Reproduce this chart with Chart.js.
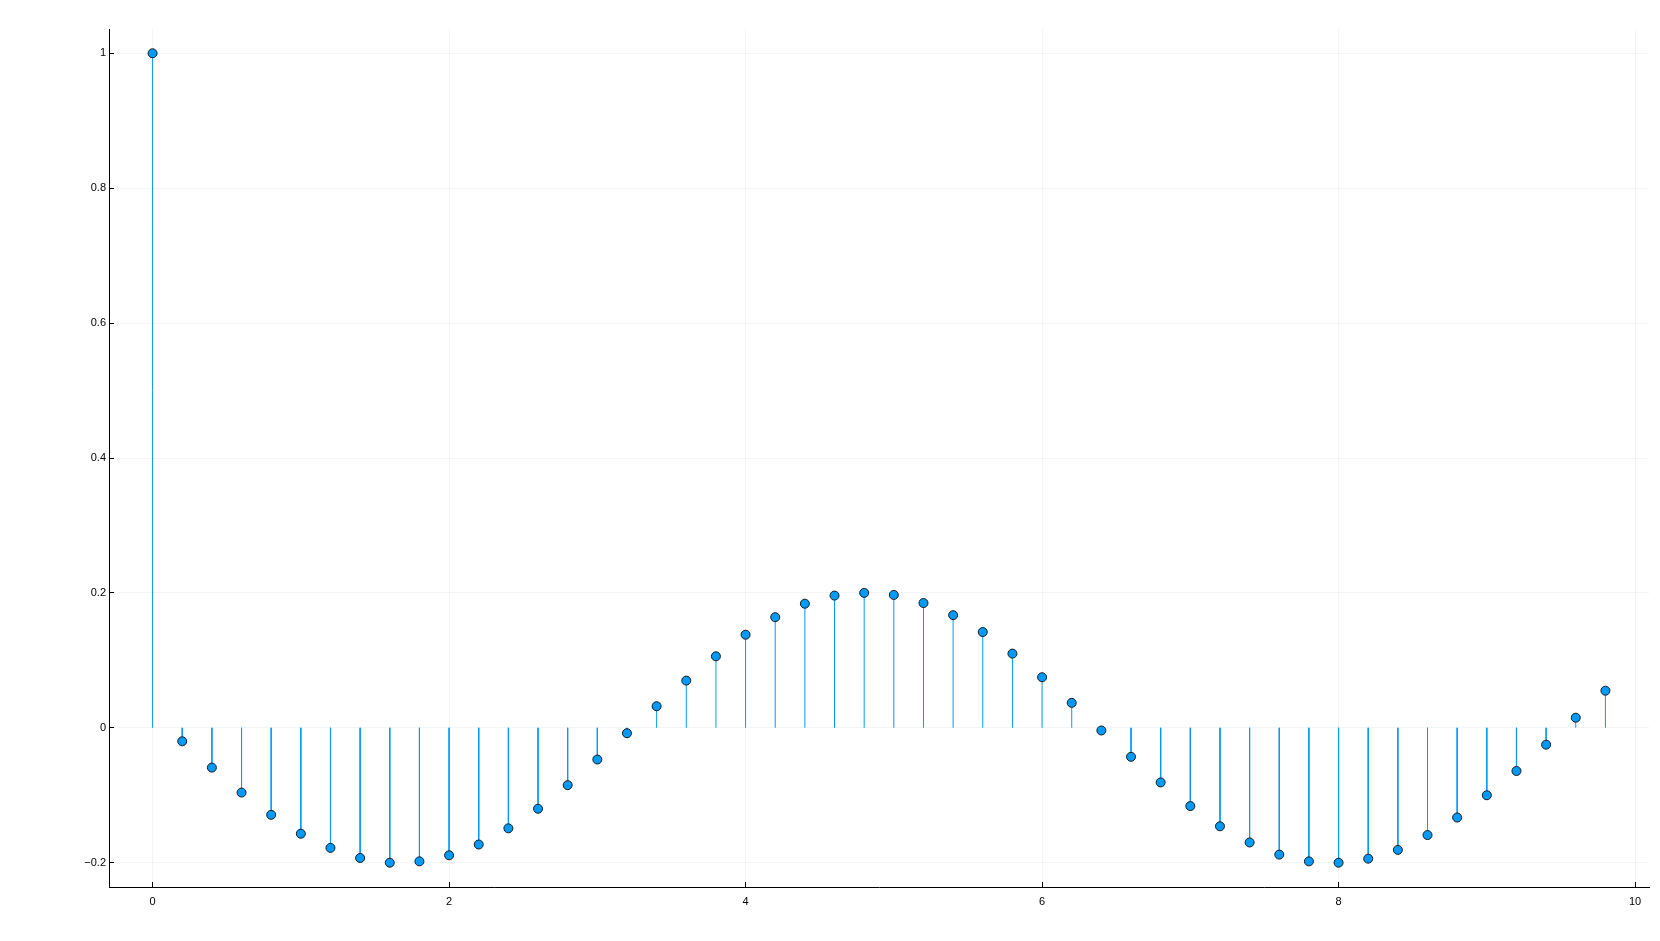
<!DOCTYPE html>
<html>
<head>
<meta charset="utf-8">
<script src="https://cdn.jsdelivr.net/npm/chart.js@4.4.1/dist/chart.umd.min.js"></script>
<style>
  html, body { margin: 0; padding: 0; background: #ffffff; }
  #wrap { width: 1660px; height: 941px; }
</style>
</head>
<body>
<div id="wrap"><canvas id="c" width="1660" height="941"></canvas></div>
<script>
// ---- data ----
const xValues = [0, 0.2, 0.4, 0.6, 0.8, 1.0, 1.2, 1.4, 1.6, 1.8,
                 2.0, 2.2, 2.4, 2.6, 2.8, 3.0, 3.2, 3.4, 3.6, 3.8,
                 4.0, 4.2, 4.4, 4.6, 4.8, 5.0, 5.2, 5.4, 5.6, 5.8,
                 6.0, 6.2, 6.4, 6.6, 6.8, 7.0, 7.2, 7.4, 7.6, 7.8,
                 8.0, 8.2, 8.4, 8.6, 8.8, 9.0, 9.2, 9.4, 9.6, 9.8];
const yValues = [1.0, -0.020, -0.059, -0.096, -0.129, -0.157, -0.178, -0.193, -0.200, -0.198,
                 -0.189, -0.173, -0.149, -0.120, -0.085, -0.047, -0.008, 0.032, 0.070, 0.106,
                 0.138, 0.164, 0.184, 0.196, 0.200, 0.197, 0.185, 0.167, 0.142, 0.110,
                 0.075, 0.037, -0.004, -0.043, -0.081, -0.116, -0.146, -0.170, -0.188, -0.198,
                 -0.200, -0.194, -0.181, -0.159, -0.133, -0.100, -0.064, -0.025, 0.015, 0.055];
const xTicks = [0, 2, 4, 6, 8, 10];
const xTickLabels = ["0", "2", "4", "6", "8", "10"];
const yTicks = [-0.2, 0, 0.2, 0.4, 0.6, 0.8, 1.0];
const yTickLabels = ["\u22120.2", "0", "0.2", "0.4", "0.6", "0.8", "1"];

// ---- derived library tables ----
const pointData = xValues.map((x, i) => ({ x: x, y: yValues[i] }));
const stemData = [];
xValues.forEach((x, i) => {
  stemData.push({ x: x, y: 0 });
  stemData.push({ x: x, y: yValues[i] });
  stemData.push({ x: x, y: null });
});

const blue = 'rgb(0,154,250)';
const font = { family: '"Liberation Sans", Arial, sans-serif', size: 11 };

new Chart(document.getElementById('c'), {
  type: 'scatter',
  data: {
    datasets: [
      {
        data: pointData,
        pointRadius: 4.5,
        pointBackgroundColor: blue,
        pointBorderColor: '#1a1a1a',
        pointBorderWidth: 1,
        showLine: false
      },
      {
        data: stemData,
        showLine: true,
        spanGaps: false,
        borderColor: blue,
        borderWidth: 1,
        pointRadius: 0,
        fill: false
      }
    ]
  },
  options: {
    responsive: false,
    animation: false,
    devicePixelRatio: 1,
    layout: { padding: { top: 29, right: 11, left: 0, bottom: 0 } },
    plugins: { legend: { display: false }, tooltip: { enabled: false } },
    scales: {
      x: {
        type: 'linear',
        min: -0.294,
        max: 10.094,
        afterBuildTicks: (s) => { s.ticks = xTicks.map(v => ({ value: v })); },
        afterFit: (s) => { s.height = 54; },
        ticks: {
          color: '#000',
          font: font,
          padding: 13,
          maxRotation: 0,
          callback: (v) => { const k = xTicks.indexOf(v); return k >= 0 ? xTickLabels[k] : ''; }
        },
        grid: {
          color: 'rgba(0,0,0,0.045)',
          lineWidth: 1,
          tickLength: -5,
          tickColor: '#000',
          tickWidth: 1
        },
        border: { display: true, color: '#000', width: 1 }
      },
      y: {
        type: 'linear',
        min: -0.236,
        max: 1.036,
        afterBuildTicks: (s) => { s.ticks = yTicks.map(v => ({ value: v })); },
        afterFit: (s) => { s.width = 109; },
        ticks: {
          color: '#000',
          font: font,
          padding: 8,
          callback: (v) => {
            const k = yTicks.findIndex(t => Math.abs(t - v) < 1e-9);
            return k >= 0 ? yTickLabels[k] : '';
          }
        },
        grid: {
          color: 'rgba(0,0,0,0.045)',
          lineWidth: 1,
          tickLength: -5,
          tickColor: '#000',
          tickWidth: 1
        },
        border: { display: true, color: '#000', width: 1 }
      }
    }
  }
});
</script>
</body>
</html>
